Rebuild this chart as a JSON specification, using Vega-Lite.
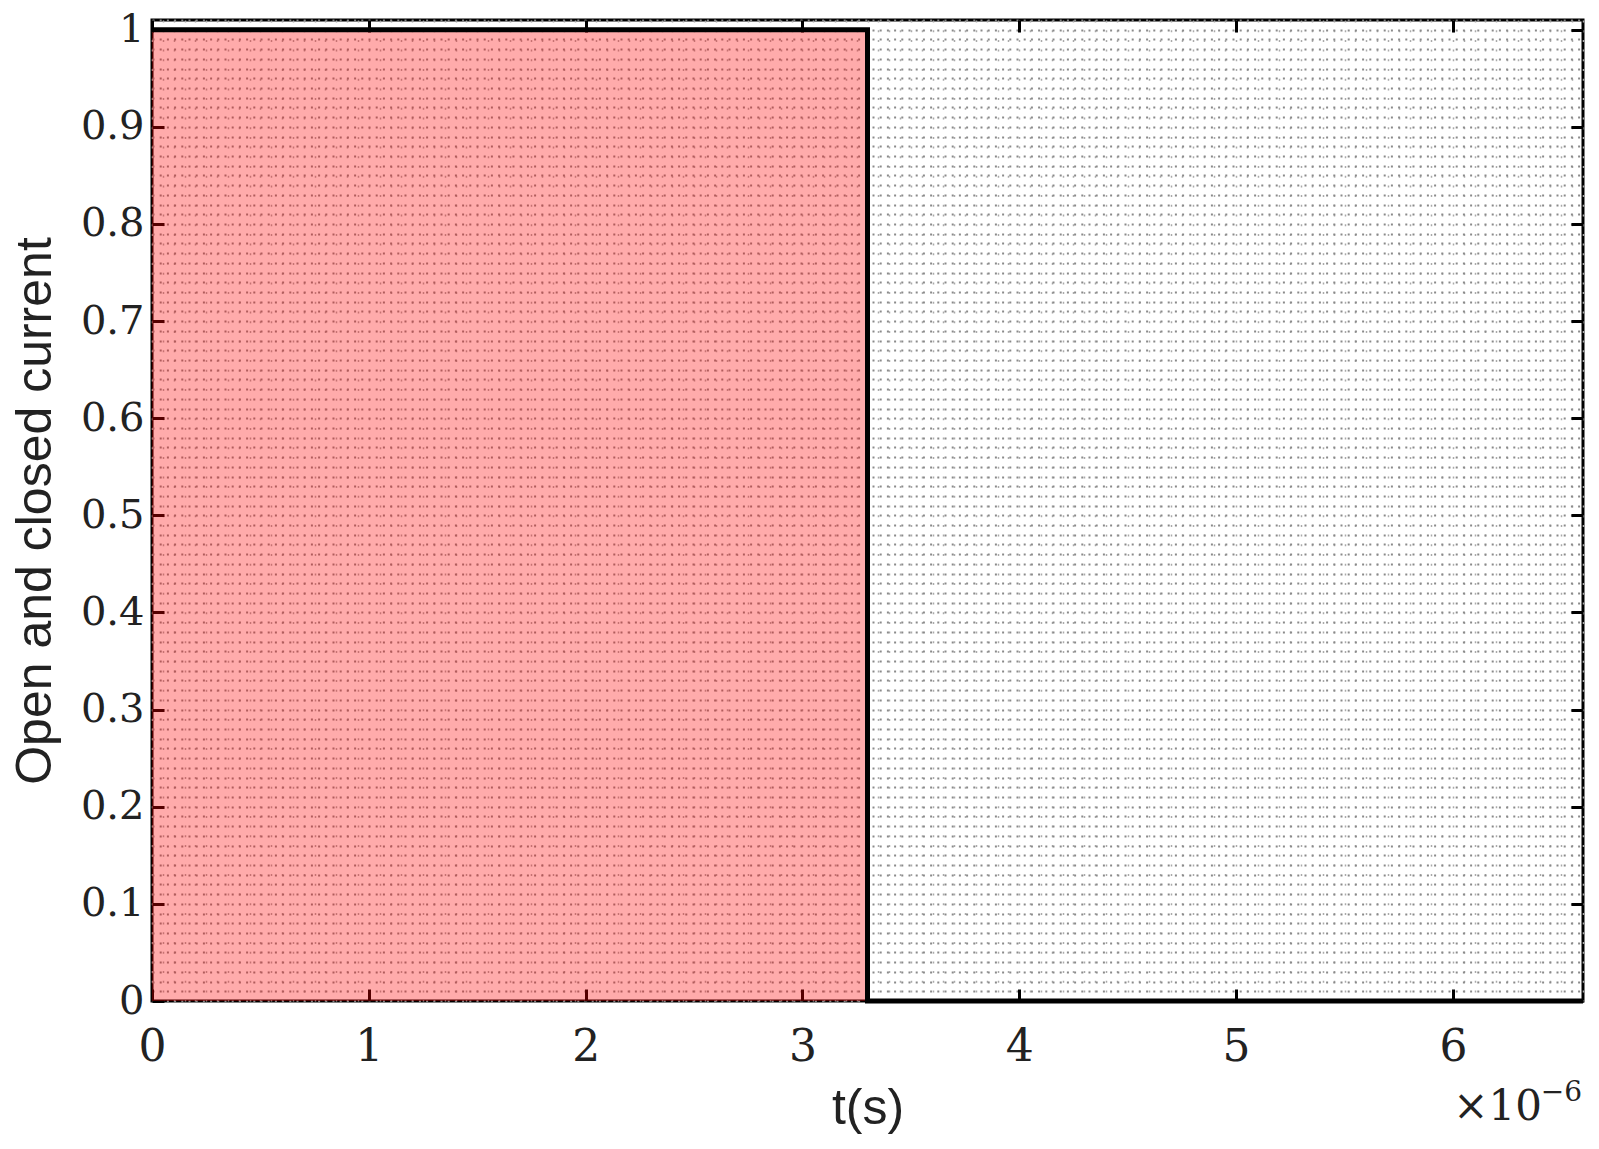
{
  "$schema": "https://vega.github.io/schema/vega-lite/v6.json",
  "width": 1431,
  "height": 981,
  "autosize": {"type": "none"},
  "padding": {"left": 152, "top": 20, "right": 16, "bottom": 148},
  "background": "white",
  "config": {
    "view": {"stroke": "#000", "strokeWidth": 3},
    "axis": {"domain": false}
  },
  "data": {
    "values": [
      {"t": 0, "current": 1},
      {"t": 3.3e-6, "current": 1},
      {"t": 3.3e-6, "current": 0},
      {"t": 6.6e-6, "current": 0}
    ]
  },
  "layer": [
    {
      "mark": {"type": "area", "color": "#ff0000", "opacity": 0.33},
      "encoding": {
        "x": {
          "field": "t", "type": "quantitative",
          "scale": {"domain": [0, 6.6e-6], "nice": false, "zero": false},
          "axis": {
            "orient": "bottom", "title": "t(s)", "tickCount": 132,
            "grid": true, "gridDash": [2, 7.7], "gridColor": "#aaaaaa", "gridWidth": 1.5,
            "tickSize": -12, "tickWidth": 3, "tickColor": "#000",
            "tickOpacity": {"condition": {"test": "abs(datum.value*1e6 - round(datum.value*1e6)) < 1e-6", "value": 1}, "value": 0},
            "labelExpr": "abs(datum.value*1e6 - round(datum.value*1e6)) < 1e-6 ? format(datum.value*1e6,'d') : ''",
            "labelFont": "DejaVu Serif", "labelFontSize": 44, "labelColor": "#222",
            "labelBaseline": "alphabetic", "labelPadding": 71,
            "labelFlush": false, "labelOverlap": false,
            "titleFont": "Liberation Sans", "titleFontSize": 50, "titleFontWeight": "normal",
            "titleColor": "#222", "titleBaseline": "alphabetic", "titleY": 122
          }
        },
        "y": {
          "field": "current", "type": "quantitative",
          "scale": {"domain": [0, 1.01], "nice": false, "zero": false},
          "axis": {
            "orient": "left", "title": "Open and closed current", "tickCount": 101,
            "grid": true, "gridDash": [2, 5.2], "gridColor": "#8a8a8a", "gridWidth": 2,
            "tickSize": -12, "tickWidth": 3, "tickColor": "#000",
            "tickOpacity": {"condition": {"test": "round(datum.value*100)%10===0", "value": 1}, "value": 0},
            "labelExpr": "round(datum.value*100)%10===0 ? format(datum.value,'.2~g') : ''",
            "labelFont": "DejaVu Serif", "labelFontSize": 40, "labelColor": "#222",
            "labelPadding": 20, "labelFlush": false, "labelOverlap": false,
            "titleFont": "Liberation Sans", "titleFontSize": 50, "titleFontWeight": "normal",
            "titleColor": "#222", "titleBaseline": "alphabetic", "titleX": -102
          }
        }
      }
    },
    {
      "mark": {"type": "line", "color": "#000", "strokeWidth": 5, "strokeJoin": "miter"},
      "encoding": {
        "x": {
          "field": "t", "type": "quantitative",
          "scale": {"domain": [0, 6.6e-6], "nice": false, "zero": false},
          "axis": {"orient": "top", "title": null, "labels": false, "grid": false, "tickCount": 7,
                   "tickSize": -12, "tickWidth": 3, "tickColor": "#000"}
        },
        "y": {
          "field": "current", "type": "quantitative",
          "scale": {"domain": [0, 1.01], "nice": false, "zero": false},
          "axis": {"orient": "right", "title": null, "labels": false, "grid": false, "tickCount": 10,
                   "tickSize": -12, "tickWidth": 3, "tickColor": "#000"}
        }
      }
    },
    {
      "data": {"values": [{"note": "×10"}]},
      "mark": {"type": "text", "font": "DejaVu Serif", "fontSize": 42, "align": "right",
               "baseline": "alphabetic", "dx": -41, "dy": 119, "color": "#222"},
      "encoding": {
        "x": {"datum": 6.6e-6, "type": "quantitative", "axis": null},
        "y": {"datum": 0, "type": "quantitative", "axis": null},
        "text": {"field": "note"}
      }
    },
    {
      "data": {"values": [{"note": "−6"}]},
      "mark": {"type": "text", "font": "DejaVu Serif", "fontSize": 28, "align": "right",
               "baseline": "alphabetic", "dx": -1, "dy": 100, "color": "#222"},
      "encoding": {
        "x": {"datum": 6.6e-6, "type": "quantitative", "axis": null},
        "y": {"datum": 0, "type": "quantitative", "axis": null},
        "text": {"field": "note"}
      }
    }
  ],
  "resolve": {"axis": {"x": "independent", "y": "independent"}}
}
